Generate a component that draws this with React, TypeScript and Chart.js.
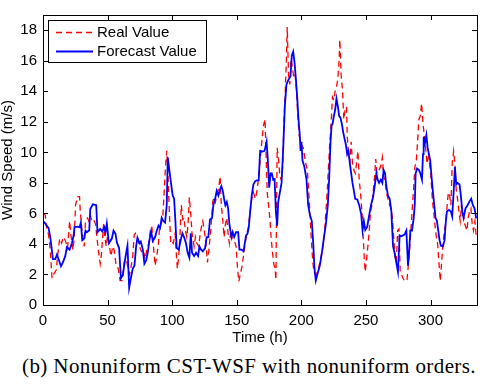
import React, { useEffect, useRef } from "react";
import { Chart, registerables } from "chart.js";

Chart.register(...registerables);

const seriesNames = ["Real Value", "Forecast Value"];
const xTitle = "Time (h)";
const yTitle = "Wind Speed (m/s)";
const caption = "(b) Nonuniform CST-WSF with nonuniform orders.";
const xTickValues = [0, 50, 100, 150, 200, 250, 300];
const yTickValues = [0, 2, 4, 6, 8, 10, 12, 14, 16, 18];
const xRange = [0, 336];
const yRange = [0, 19];

const realHours = [
  0.5, 1.7, 2.5, 4.3, 5.6, 7.0, 8.2, 10.3, 11.3, 12.9, 14.4, 15.9, 17.2, 19.0, 20.6, 21.6, 23.2, 24.2, 25.2, 26.8,
  28.3, 28.8, 29.9, 30.9, 31.9, 32.9, 34.5, 35.5, 36.6, 37.9, 39.1, 40.7, 41.7, 43.0, 44.3, 45.3, 46.9, 47.9, 48.9, 50.0,
  51.5, 52.5, 54.1, 55.1, 56.6, 58.2, 59.7, 61.3, 62.8, 64.4, 65.9, 67.0, 68.0, 69.5, 70.6, 71.6, 73.1, 74.7, 76.2, 77.8,
  79.0, 80.3, 81.9, 83.4, 84.3, 85.5, 86.8, 88.1, 89.4, 90.2, 91.4, 92.7, 93.8, 94.7, 95.8, 96.8, 97.8, 98.9, 99.9, 100.9,
  102.3, 103.0, 104.0, 105.1, 106.1, 107.1, 108.2, 109.2, 110.2, 111.3, 112.3, 113.3, 114.4, 115.4, 117.0, 118.0, 119.1, 120.6, 121.7, 123.0,
  123.7, 125.2, 126.3, 127.3, 128.3, 129.9, 131.4, 132.4, 133.5, 134.5, 136.1, 137.1, 138.1, 139.2, 140.2, 141.2, 142.3, 143.3, 144.3, 145.4,
  146.4, 148.0, 149.5, 150.6, 151.6, 152.6, 154.2, 155.2, 156.5, 157.8, 159.0, 160.3, 161.6, 162.9, 164.4, 165.5, 166.7, 168.1, 169.6, 170.7,
  171.9, 173.6, 174.6, 175.6, 176.6, 177.7, 178.7, 179.7, 180.3, 181.3, 182.4, 183.4, 184.4, 185.5, 186.5, 187.5, 188.5, 189.1, 190.1, 191.1,
  192.1, 193.2, 194.2, 195.2, 196.3, 197.3, 198.3, 199.9, 201.5, 203.0, 204.6, 205.6, 206.6, 207.6, 208.7, 209.7, 211.2, 213.3, 214.8, 216.4,
  217.9, 219.0, 220.0, 221.0, 222.1, 223.1, 224.1, 225.2, 226.2, 227.2, 228.3, 229.3, 229.8, 230.8, 231.9, 232.9, 233.9, 235.0, 235.5, 236.5,
  237.6, 238.6, 239.6, 240.7, 241.7, 242.7, 243.8, 244.8, 245.8, 246.9, 247.9, 248.9, 249.5, 250.5, 251.5, 252.6, 253.6, 254.6, 255.6, 256.6,
  257.6, 258.6, 260.2, 261.7, 262.7, 263.7, 264.8, 265.8, 267.1, 268.4, 269.4, 270.5, 271.5, 272.5, 273.5, 274.6, 275.6, 276.6, 277.7, 278.7,
  280.2, 281.8, 282.8, 283.8, 284.8, 285.9, 286.9, 287.9, 289.0, 290.0, 291.0, 292.1, 293.1, 294.2, 295.2, 296.2, 297.3, 298.3, 299.3, 300.3,
  301.4, 302.4, 303.4, 304.5, 305.5, 306.5, 307.6, 308.6, 309.6, 310.7, 311.7, 312.7, 313.8, 314.8, 315.8, 316.8, 317.9, 318.9, 319.9, 320.9,
  322.0, 323.0, 324.0, 325.1, 326.6, 328.2, 329.2, 330.2, 331.3, 332.3, 333.3, 334.4, 335.4,
];
const realValues = [
  6.0, 5.9, 5.2, 4.6, 3.6, 1.75, 2.0, 2.3, 3.2, 4.35, 4.05, 4.45, 4.25, 3.73, 5.5, 4.6, 3.6, 4.45, 6.55, 7.1,
  7.1, 6.2, 5.1, 4.45, 3.84, 5.5, 5.7, 5.5, 5.9, 5.5, 5.6, 5.3, 4.45, 3.5, 2.7, 3.4, 5.3, 4.45, 3.84, 4.55,
  3.84, 3.2, 3.84, 3.6, 2.6, 2.4, 1.6, 1.6, 2.8, 3.0, 2.4, 2.0, 2.4, 3.2, 4.6, 4.7, 4.45, 3.84, 3.5, 3.6,
  3.0, 3.6, 4.05, 5.1, 5.1, 3.84, 2.58, 3.21, 4.04, 5.08, 5.29, 5.71, 7.38, 8.84, 10.1, 8.42, 6.12, 4.04, 4.15, 4.04,
  4.67, 3.63, 2.38, 3.21, 4.67, 6.54, 5.6, 5.71, 4.88, 4.45, 5.29, 7.06, 5.92, 4.67, 3.84, 4.45, 4.04, 3.84, 4.67, 5.29,
  5.5, 4.67, 3.84, 2.79, 3.52, 4.88, 6.75, 7.06, 6.75, 7.17, 7.69, 8.42, 6.54, 5.5, 4.45, 5.29, 5.71, 4.67, 4.04, 4.88,
  4.35, 4.25, 3.84, 2.38, 1.54, 1.96, 2.58, 3.21, 4.04, 4.67, 5.08, 6.12, 6.96, 7.38, 6.96, 7.38, 8.21, 9.46, 10.9, 11.75,
  12.17, 7.38, 6.54, 5.71, 4.46, 3.42, 2.69, 2.38, 1.65, 10.3, 9.46, 8.42, 8.21, 9.04, 11.75, 13.83, 16.33, 18.21, 15.08, 14.46,
  16.13, 15.5, 14.88, 15.08, 14.04, 12.38, 11.13, 10.5, 10.3, 9.46, 8.84, 7.59, 6.12, 4.46, 3.0, 2.17, 1.96, 2.38, 3.0, 3.63,
  4.67, 6.12, 7.38, 9.04, 10.7, 11.96, 13.63, 13.42, 14.04, 14.25, 14.88, 16.13, 17.38, 15.08, 14.04, 12.17, 12.79, 13.0, 11.13, 9.88,
  9.46, 10.7, 9.25, 8.84, 8.63, 9.25, 10.09, 8.21, 7.38, 6.12, 4.46, 2.79, 2.17, 3.0, 3.84, 4.88, 6.12, 6.54, 7.38, 8.3,
  9.56, 8.63, 8.84, 9.15, 9.67, 8.42, 8.21, 7.38, 6.96, 6.54, 6.34, 5.71, 4.46, 3.21, 2.79, 4.88, 4.98, 2.06, 1.96, 1.75,
  1.54, 1.65, 2.58, 3.63, 4.88, 6.34, 7.58, 9.04, 9.46, 10.71, 12.17, 12.38, 13.21, 11.86, 11.13, 10.29, 9.25, 9.67, 9.25, 8.42,
  6.96, 6.13, 5.29, 4.46, 4.04, 2.79, 1.58, 2.79, 3.84, 4.88, 5.29, 6.34, 7.38, 7.17, 6.54, 9.25, 10.09, 9.25, 7.58, 6.96,
  6.13, 5.5, 6.54, 6.13, 5.29, 4.88, 5.71, 6.13, 6.34, 5.29, 4.88, 5.5, 4.46,
];

const forecastHours = [
  0.5, 4.3, 5.6, 7.7, 9.5, 10.8, 12.1, 13.9, 15.4, 17.2, 18.5, 20.6, 22.4, 23.7, 24.4, 26.8, 28.3, 29.3, 30.4, 31.9,
  32.9, 34.0, 35.8, 36.6, 38.6, 41.2, 42.2, 44.3, 45.8, 47.4, 48.4, 49.4, 51.0, 53.3, 54.6, 56.1, 57.2, 58.9, 60.3, 61.8,
  62.8, 63.9, 65.4, 66.7, 68.0, 69.5, 70.8, 72.1, 73.1, 74.7, 75.7, 77.3, 78.5, 79.8, 81.1, 82.4, 83.7, 85.0, 86.8, 88.1,
  89.4, 90.6, 91.9, 93.2, 94.5, 95.8, 96.6, 97.8, 99.1, 100.4, 101.5, 102.5, 103.5, 105.1, 106.6, 107.9, 109.2, 110.7, 112.0, 113.3,
  114.4, 115.4, 117.0, 118.5, 120.1, 121.1, 122.4, 123.7, 125.5, 126.7, 128.0, 129.3, 130.9, 131.9, 133.5, 134.5, 135.8, 137.1, 138.1, 139.2,
  140.2, 141.2, 142.3, 143.3, 144.3, 145.9, 146.9, 148.0, 149.5, 151.1, 152.1, 153.7, 155.2, 156.2, 157.2, 158.3, 159.3, 160.3, 161.6, 162.9,
  164.2, 165.5, 167.0, 168.1, 170.0, 171.5, 173.1, 174.1, 175.1, 176.2, 177.2, 178.2, 179.3, 180.3, 181.3, 182.1, 183.4, 184.7, 186.0, 187.2,
  188.5, 190.1, 191.6, 192.6, 193.7, 194.7, 195.7, 196.8, 197.8, 198.8, 199.4, 200.1, 200.9, 202.4, 204.0, 205.3, 206.6, 208.1, 209.2, 210.2,
  211.2, 212.8, 214.3, 215.9, 217.4, 219.0, 220.5, 221.5, 222.6, 223.4, 224.1, 225.2, 226.2, 227.2, 228.3, 229.3, 230.3, 231.4, 232.4, 233.4,
  234.5, 235.5, 236.5, 237.6, 238.6, 239.6, 240.7, 241.7, 243.3, 244.8, 246.4, 247.4, 248.4, 249.5, 251.0, 252.6, 254.1, 255.5, 256.8, 258.1,
  259.1, 260.2, 261.5, 262.7, 263.7, 264.8, 265.8, 267.1, 268.4, 269.7, 271.0, 272.2, 273.5, 274.8, 276.1, 277.4, 278.7, 280.0, 281.3, 282.6,
  283.4, 284.4, 285.7, 287.0, 287.8, 288.5, 289.6, 291.1, 292.1, 293.4, 294.2, 294.7, 295.7, 296.8, 297.8, 298.8, 299.8, 300.8, 301.9, 302.9,
  303.9, 305.0, 306.0, 307.0, 308.1, 309.6, 310.9, 311.7, 312.7, 314.3, 315.8, 316.8, 317.9, 318.9, 319.9, 320.9, 322.5, 323.5, 324.6, 325.6,
  327.1, 328.7, 330.2, 331.5, 332.8, 334.1, 335.4,
];
const forecastValues = [
  5.46, 5.04, 4.46, 3.0, 3.0, 3.3, 3.0, 2.54, 2.79, 3.2, 3.8, 3.63, 4.05, 4.57, 5.1, 5.13, 5.1, 5.4, 4.25, 4.35,
  4.87, 4.77, 4.9, 6.29, 6.6, 6.54, 4.77, 4.98, 4.83, 5.1, 4.77, 5.33, 4.05, 4.35, 4.87, 4.67, 4.09, 3.73, 1.75, 1.96,
  2.54, 3.17, 3.88, 1.13, 1.75, 2.38, 2.58, 3.84, 4.4, 4.05, 4.15, 3.63, 2.7, 2.9, 3.42, 4.25, 4.83, 4.2, 4.45, 4.88,
  5.19, 5.04, 5.71, 5.5, 5.4, 6.54, 9.67, 8.84, 8.0, 7.17, 6.96, 5.5, 3.73, 3.63, 4.25, 4.7, 4.45, 4.04, 3.42, 3.1,
  4.7, 3.42, 3.21, 3.42, 3.21, 3.84, 3.63, 3.52, 3.73, 4.45, 4.45, 5.6, 5.71, 6.54, 7.06, 7.48, 7.17, 7.58, 7.79, 7.48,
  6.96, 6.54, 6.75, 6.33, 5.29, 4.45, 4.77, 4.45, 4.77, 4.77, 3.63, 3.63, 3.52, 4.04, 4.56, 4.67, 5.08, 6.02, 7.17, 7.9,
  8.1, 8.17, 8.17, 10.1, 10.05, 10.1, 10.7, 9.46, 7.69, 8.63, 8.63, 8.21, 8.25, 6.12, 5.19, 6.75, 7.38, 8.0, 10.3, 13.0,
  14.46, 14.77, 14.98, 16.33, 16.6, 15.92, 14.9, 13.6, 12.17, 11.13, 10.1, 10.7, 9.46, 9.04, 8.21, 6.54, 5.92, 5.5, 4.04, 2.38,
  1.6, 2.13, 2.58, 3.42, 4.35, 5.29, 6.54, 8.21, 10.7, 11.75, 11.85, 12.38, 12.79, 13.52, 13.0, 12.38, 12.27, 11.85, 11.33, 10.92,
  10.5, 9.88, 10.09, 9.25, 8.63, 8.0, 7.48, 6.96, 6.92, 6.54, 5.92, 4.88, 5.5, 4.92, 5.12, 5.92, 6.6, 7.06, 7.79, 8.63,
  8.21, 8.0, 8.21, 8.0, 8.84, 8.63, 7.79, 7.17, 6.96, 6.13, 3.84, 3.42, 2.79, 2.17, 4.56, 4.5, 4.56, 4.63, 4.88, 2.58,
  3.42, 4.88, 4.88, 5.71, 6.54, 8.63, 8.94, 8.84, 8.63, 8.21, 9.88, 11.02, 10.6, 11.13, 10.29, 9.88, 9.46, 8.42, 7.38, 6.54,
  5.71, 5.5, 4.88, 4.25, 3.88, 3.84, 4.25, 5.29, 6.13, 6.23, 6.13, 5.81, 7.38, 9.04, 7.9, 8.0, 7.9, 7.17, 6.13, 5.71,
  6.34, 6.54, 6.79, 6.96, 6.54, 6.34, 5.67,
];

const FONT = "'Liberation Sans', Arial, Helvetica, sans-serif";
const RED = "#ff0000";
const BLUE = "#0000ff";

const framePlugin = {
  id: "matlabFrame",
  afterDatasetsDraw(chart: any) {
    const { ctx, chartArea } = chart;
    const { left, right, top, bottom } = chartArea;
    const xs = chart.scales.x;
    const ys = chart.scales.y;
    ctx.save();
    ctx.strokeStyle = "#000";
    ctx.lineWidth = 1;
    ctx.setLineDash([]);
    ctx.strokeRect(Math.round(left) + 0.5, Math.round(top) + 0.5, Math.round(right - left), Math.round(bottom - top));
    const tl = 5;
    ctx.beginPath();
    xTickValues.forEach((v) => {
      const px = Math.round(xs.getPixelForValue(v)) + 0.5;
      ctx.moveTo(px, bottom);
      ctx.lineTo(px, bottom - tl);
      ctx.moveTo(px, top);
      ctx.lineTo(px, top + tl);
    });
    yTickValues.forEach((v) => {
      const py = Math.round(ys.getPixelForValue(v)) + 0.5;
      ctx.moveTo(left, py);
      ctx.lineTo(left + tl, py);
      ctx.moveTo(right, py);
      ctx.lineTo(right - tl, py);
    });
    ctx.stroke();

    // axis titles
    ctx.fillStyle = "#000";
    ctx.font = `15px ${FONT}`;
    ctx.textAlign = "center";
    ctx.textBaseline = "middle";
    ctx.fillText(xTitle, (left + right) / 2, 338);
    ctx.save();
    ctx.translate(8, (top + bottom) / 2);
    ctx.rotate(-Math.PI / 2);
    ctx.fillText(yTitle, 0, 0);
    ctx.restore();

    // legend
    const lx = left + 5;
    const ly = top + 5;
    const lw = 158;
    const lh = 42;
    ctx.fillStyle = "#fff";
    ctx.fillRect(lx, ly, lw, lh);
    ctx.strokeStyle = "#000";
    ctx.lineWidth = 1;
    ctx.strokeRect(lx + 0.5, ly + 0.5, lw, lh);
    const rows = [
      { name: seriesNames[0], color: RED, dash: [6, 4], width: 1.3, y: ly + 12.5 },
      { name: seriesNames[1], color: BLUE, dash: [], width: 1.8, y: ly + 31.5 },
    ];
    rows.forEach((r) => {
      ctx.beginPath();
      ctx.strokeStyle = r.color;
      ctx.lineWidth = r.width;
      ctx.setLineDash(r.dash);
      ctx.moveTo(lx + 8, r.y);
      ctx.lineTo(lx + 45, r.y);
      ctx.stroke();
      ctx.setLineDash([]);
      ctx.fillStyle = "#000";
      ctx.textAlign = "left";
      ctx.textBaseline = "middle";
      ctx.fillText(r.name, lx + 49, r.y);
    });
    ctx.restore();
  },
};

export default function App() {
  const canvasRef = useRef<HTMLCanvasElement | null>(null);

  useEffect(() => {
    const canvas = canvasRef.current;
    if (!canvas) return;
    const realData = realHours.map((h, i) => ({ x: h, y: realValues[i] }));
    const forecastData = forecastHours.map((h, i) => ({ x: h, y: forecastValues[i] }));
    const chart = new Chart(canvas, {
      type: "line",
      data: {
        datasets: [
          {
            label: seriesNames[1],
            data: forecastData,
            borderColor: BLUE,
            borderWidth: 1.8,
            pointRadius: 0,
            tension: 0,
            fill: false,
          },
          {
            label: seriesNames[0],
            data: realData,
            borderColor: RED,
            borderWidth: 1.3,
            borderDash: [6, 4],
            pointRadius: 0,
            tension: 0,
            fill: false,
          },
        ],
      },
      options: {
        animation: false,
        responsive: false,
        maintainAspectRatio: false,
        devicePixelRatio: 1,
        layout: { padding: { left: 0, top: 1, right: 7, bottom: 0 } },
        plugins: { legend: { display: false }, tooltip: { enabled: false } },
        scales: {
          x: {
            type: "linear",
            min: xRange[0],
            max: xRange[1],
            grid: { display: false, drawTicks: false },
            border: { display: false },
            afterFit: (s: any) => {
              s.height = 45;
            },
            afterBuildTicks: (s: any) => {
              s.ticks = xTickValues.map((v) => ({ value: v }));
            },
            ticks: {
              color: "#000",
              font: { family: FONT, size: 15 },
              padding: 7,
              maxRotation: 0,
              autoSkip: false,
            },
          },
          y: {
            type: "linear",
            min: yRange[0],
            max: yRange[1],
            grid: { display: false, drawTicks: false },
            border: { display: false },
            afterFit: (s: any) => {
              s.width = 43;
            },
            afterBuildTicks: (s: any) => {
              s.ticks = yTickValues.map((v) => ({ value: v }));
            },
            ticks: {
              color: "#000",
              font: { family: FONT, size: 15 },
              padding: 6,
              autoSkip: false,
            },
          },
        },
      },
      plugins: [framePlugin],
    });
    return () => chart.destroy();
  }, []);

  return (
    <div style={{ position: "absolute", left: 0, top: 0, width: 484, height: 384, background: "#fff" }}>
      <canvas ref={canvasRef} width={484} height={350} style={{ display: "block" }} />
      <div
        style={{
          position: "absolute",
          left: 0,
          top: 354,
          width: 498,
          textAlign: "center",
          fontFamily: "'Liberation Serif', 'Times New Roman', serif",
          fontSize: 21,
          lineHeight: "24px",
          letterSpacing: "0.4px",
          whiteSpace: "nowrap",
          color: "#000",
        }}
      >
        {caption}
      </div>
    </div>
  );
}
